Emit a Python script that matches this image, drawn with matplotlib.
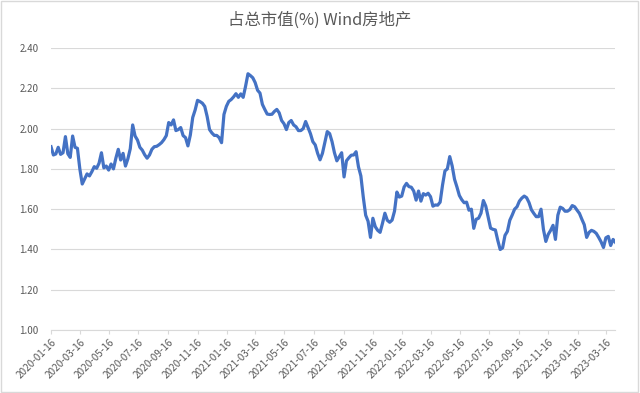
import matplotlib

matplotlib.use("Agg")
import matplotlib.pyplot as plt
import pandas as pd
from matplotlib.patches import Rectangle

# -- Data (one value every 5 calendar days) ----------------------------------
start_date = "2020-01-16"
step = "5D"
share_pct = [
    1.910, 1.869, 1.874, 1.907, 1.872, 1.880, 1.960, 1.875, 1.857, 1.963,
    1.907, 1.902, 1.800, 1.725, 1.750, 1.775, 1.765, 1.786, 1.811, 1.803,
    1.828, 1.880, 1.805, 1.814, 1.794, 1.824, 1.800, 1.853, 1.897, 1.844,
    1.877, 1.814, 1.850, 1.900, 2.018, 1.963, 1.943, 1.907, 1.893, 1.870,
    1.853, 1.869, 1.897, 1.910, 1.912, 1.920, 1.930, 1.945, 1.965, 2.030,
    2.018, 2.043, 1.990, 1.995, 2.005, 1.965, 1.955, 1.914, 1.968, 2.055,
    2.092, 2.140, 2.134, 2.126, 2.110, 2.060, 1.995, 1.978, 1.966, 1.966,
    1.955, 1.930, 2.070, 2.110, 2.135, 2.144, 2.157, 2.173, 2.155, 2.172,
    2.155, 2.210, 2.272, 2.263, 2.252, 2.228, 2.190, 2.176, 2.120, 2.095,
    2.072, 2.070, 2.071, 2.085, 2.095, 2.078, 2.040, 2.024, 1.995, 2.030,
    2.040, 2.018, 2.009, 1.990, 1.990, 2.000, 2.035, 2.005, 1.975, 1.935,
    1.919, 1.877, 1.845, 1.877, 1.930, 1.985, 1.975, 1.935, 1.880, 1.840,
    1.860, 1.880, 1.760, 1.840, 1.855, 1.868, 1.869, 1.885, 1.810, 1.765,
    1.660, 1.570, 1.540, 1.460, 1.555, 1.513, 1.495, 1.485, 1.530, 1.580,
    1.545, 1.535, 1.546, 1.590, 1.685, 1.660, 1.665, 1.710, 1.728, 1.712,
    1.709, 1.690, 1.645, 1.690, 1.640, 1.677, 1.670, 1.679, 1.662, 1.615,
    1.621, 1.620, 1.635, 1.720, 1.790, 1.800, 1.861, 1.815, 1.748, 1.710,
    1.668, 1.647, 1.632, 1.635, 1.595, 1.600, 1.505, 1.550, 1.555, 1.580,
    1.643, 1.615, 1.560, 1.506, 1.500, 1.497, 1.445, 1.400, 1.408, 1.470,
    1.490, 1.545, 1.571, 1.600, 1.612, 1.640, 1.655, 1.665, 1.657, 1.633,
    1.597, 1.579, 1.563, 1.563, 1.600, 1.500, 1.440, 1.475, 1.495, 1.520,
    1.450, 1.570, 1.610, 1.604, 1.590, 1.590, 1.598, 1.618, 1.612, 1.595,
    1.579, 1.550, 1.523, 1.460, 1.485, 1.495, 1.490, 1.480, 1.460, 1.438,
    1.410, 1.458, 1.465, 1.420, 1.450, 1.435,
]
y_ticks = [1.00, 1.20, 1.40, 1.60, 1.80, 2.00, 2.20, 2.40]
x_tick_start = "2020-01-16"
x_tick_end = "2023-03-16"
title = "占总市值(%) Wind房地产"

dates = pd.date_range(start_date, periods=len(share_pct), freq=step)
series = pd.Series(share_pct, index=dates)
x_ticks = pd.date_range(x_tick_start, x_tick_end, freq=pd.DateOffset(months=2))

# -- Figure ------------------------------------------------------------------
plt.rcParams["font.family"] = ["Noto Sans CJK SC", "DejaVu Sans"]
grey_text = "#595959"
grey_line = "#d9d9d9"

fig = plt.figure(figsize=(6.4, 3.93), dpi=100)
ax = fig.add_axes([0.0797, 0.160, 0.882, 0.718])

ax.plot(series.index, series.values, color="#4472c4", linewidth=2.3, solid_joinstyle="round")

ax.set_xlim(dates[0], dates[-1])
ax.set_ylim(y_ticks[0], y_ticks[-1])
ax.set_yticks(y_ticks)
ax.set_yticklabels([f"{v:.2f}" for v in y_ticks])
ax.set_xticks(x_ticks)
ax.set_xticklabels([d.strftime("%Y-%m-%d") for d in x_ticks])

ax.grid(axis="y", color=grey_line, linewidth=0.8)
ax.set_axisbelow(True)
for side in ["left", "right", "top"]:
    ax.spines[side].set_visible(False)
ax.spines["bottom"].set_color(grey_line)
ax.spines["bottom"].set_linewidth(0.8)

ax.tick_params(axis="y", length=0, pad=9, labelsize=7, labelcolor=grey_text)
ax.tick_params(axis="x", length=3, width=0.8, color=grey_line, pad=2, labelsize=7.2, labelcolor=grey_text)
for lbl in ax.get_xticklabels():
    lbl.set_rotation(45)
    lbl.set_ha("right")
    lbl.set_va("top")
    lbl.set_rotation_mode("anchor")

fig.text(0.5, 0.948, title, ha="center", va="center", fontsize=11.8, color=grey_text)

# chart area border
fig.patches.append(
    Rectangle((0.002, 0.003), 0.995, 0.994, transform=fig.transFigure,
              fill=False, edgecolor=grey_line, linewidth=1.0)
)

fig.savefig("out.png", dpi=100)
